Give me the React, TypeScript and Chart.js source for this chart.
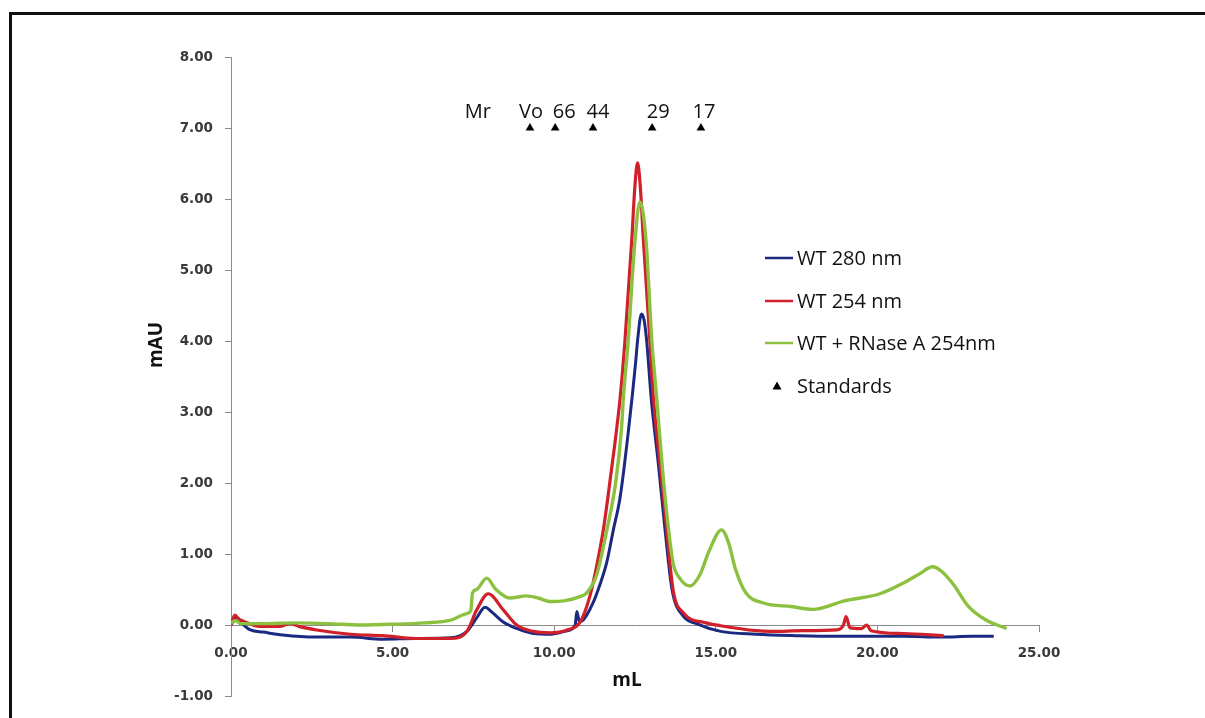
import React, { useEffect, useRef } from "react";
import { Chart, registerables } from "chart.js";

Chart.register(...registerables);

// ---------- data ----------
const seriesLabels = ["WT 280 nm", "WT 254 nm", "WT + RNase A 254nm", "Standards"];
const seriesColors = ["#1b2a80", "#d0202a", "#8cc13f", "#000000"];

const wt280X = [0.0, 0.1, 0.2, 0.35, 0.6, 1.0, 1.6, 2.6, 3.7, 4.7, 5.7, 6.8, 7.3, 7.6, 7.86, 8.1, 8.4, 8.85, 9.35, 9.9, 10.4, 10.65, 10.7, 10.78, 10.9, 11.2, 11.4, 11.62, 11.83, 12.04, 12.3, 12.52, 12.58, 12.7, 12.78, 12.86, 13.0, 13.22, 13.43, 13.65, 14.0, 14.4, 15.15, 16.25, 17.5, 18.7, 20.0, 20.8, 22.0, 22.9, 23.6];
const wt280Y = [0.0, 0.08, 0.1, 0.02, -0.07, -0.1, -0.14, -0.17, -0.17, -0.2, -0.19, -0.18, -0.09, 0.1, 0.25, 0.17, 0.05, -0.05, -0.12, -0.13, -0.08, 0.0, 0.19, 0.05, 0.07, 0.31, 0.55, 0.87, 1.34, 1.8, 2.75, 3.7, 4.01, 4.38, 4.3, 4.01, 3.2, 2.28, 1.34, 0.49, 0.12, 0.02, -0.09, -0.13, -0.15, -0.16, -0.16, -0.16, -0.17, -0.16, -0.16];

const wt254X = [0.0, 0.12, 0.25, 0.4, 0.9, 1.5, 1.83, 2.1, 2.65, 3.7, 4.7, 5.7, 6.8, 7.3, 7.6, 7.96, 8.43, 8.84, 9.35, 9.87, 10.4, 10.8, 11.1, 11.3, 11.52, 11.73, 12.04, 12.19, 12.4, 12.5, 12.58, 12.66, 12.76, 12.96, 13.07, 13.27, 13.48, 13.68, 14.0, 14.7, 15.15, 16.25, 16.7, 17.7, 18.74, 18.95, 19.03, 19.15, 19.5, 19.67, 19.8, 20.8, 22.05];
const wt254Y = [0.0, 0.14, 0.08, 0.05, -0.02, -0.02, 0.02, -0.02, -0.07, -0.13, -0.15, -0.19, -0.19, -0.09, 0.21, 0.44, 0.21, 0.0, -0.09, -0.11, -0.07, 0.04, 0.4, 0.8, 1.34, 2.04, 3.2, 4.01, 5.42, 6.2, 6.51, 6.2, 5.42, 4.01, 3.2, 2.28, 1.34, 0.49, 0.17, 0.03, -0.01, -0.08, -0.09, -0.08, -0.07, 0.0, 0.12, -0.04, -0.05, 0.0, -0.08, -0.12, -0.15];

const rnaseX = [0.0, 0.15, 0.3, 1.0, 2.0, 3.0, 4.0, 5.0, 6.0, 6.8, 7.29, 7.42, 7.47, 7.6, 7.91, 8.2, 8.63, 9.15, 9.5, 9.87, 10.3, 10.8, 11.0, 11.31, 11.63, 11.9, 12.08, 12.14, 12.29, 12.5, 12.65, 12.84, 13.02, 13.17, 13.35, 13.5, 13.68, 13.9, 14.2, 14.5, 14.8, 15.18, 15.4, 15.6, 15.92, 16.47, 17.34, 18.0, 18.98, 20.08, 20.84, 21.3, 21.71, 22.0, 22.37, 22.8, 23.36, 24.0];
const rnaseY = [0.03, 0.06, 0.02, 0.02, 0.03, 0.02, 0.0, 0.01, 0.03, 0.07, 0.16, 0.2, 0.45, 0.5, 0.66, 0.5, 0.38, 0.41, 0.38, 0.33, 0.34, 0.4, 0.45, 0.7, 1.34, 2.0, 2.75, 3.2, 4.01, 5.42, 5.96, 5.42, 4.01, 3.2, 2.2, 1.5, 0.87, 0.65, 0.55, 0.7, 1.05, 1.34, 1.15, 0.8, 0.46, 0.31, 0.26, 0.22, 0.34, 0.44, 0.6, 0.72, 0.82, 0.75, 0.56, 0.27, 0.07, -0.05];

const standardsX = [9.25, 10.03, 11.2, 13.03, 14.54];
const standardsY = [7.0, 7.0, 7.0, 7.0, 7.0];
const standardsLabels = ["Vo", "66", "44", "29", "17"];
const mrLabel = "Mr";
const mrX = 7.64;

const xTitle = "mL";
const yTitle = "mAU";
const xMin = 0, xMax = 25, xStep = 5;
const yMin = -1, yMax = 8, yStep = 1;

const toPoints = (xs: number[], ys: number[]) => xs.map((x, i) => ({ x, y: ys[i] }));

const AXIS_COLOR = "#8c8c8c";
const TICK_FONT = { family: "DejaVu Sans", size: 13.5, weight: "bold" as const };
// small horizontal nudges (px) of the standard labels relative to their markers
const LABEL_NUDGE = [1, 9, 5, 6, 3];

const overlayPlugin = {
  id: "overlay",
  afterDraw(chart: any) {
    const { ctx, scales } = chart;
    const xs = scales.x;
    const ys = scales.y;
    ctx.save();
    // standards labels
    ctx.fillStyle = "#111";
    ctx.font = '20px "Open Sans"';
    ctx.textAlign = "center";
    ctx.textBaseline = "alphabetic";
    standardsX.forEach((sx, i) => {
      ctx.fillText(standardsLabels[i], xs.getPixelForValue(sx) + LABEL_NUDGE[i], ys.getPixelForValue(standardsY[i]) - 10);
    });
    ctx.fillText(mrLabel, xs.getPixelForValue(mrX), ys.getPixelForValue(standardsY[0]) - 10);

    // axis titles
    ctx.font = 'bold 19px "Open Sans"';
    ctx.textBaseline = "middle";
    ctx.fillText(xTitle, 627, 681);
    ctx.save();
    ctx.translate(157, 345);
    ctx.rotate(-Math.PI / 2);
    ctx.fillText(yTitle, 0, 0);
    ctx.restore();

    // legend
    const rows = [258, 301, 343, 386];
    ctx.font = '20px "Open Sans"';
    ctx.textAlign = "left";
    ctx.textBaseline = "middle";
    seriesLabels.forEach((lab, i) => {
      const ry = rows[i];
      if (i < 3) {
        ctx.strokeStyle = seriesColors[i];
        ctx.lineWidth = 2.5;
        ctx.beginPath();
        ctx.moveTo(765, ry);
        ctx.lineTo(793, ry);
        ctx.stroke();
      } else {
        ctx.fillStyle = "#000";
        ctx.beginPath();
        ctx.moveTo(777, ry - 4.5);
        ctx.lineTo(781.5, ry + 3.5);
        ctx.lineTo(772.5, ry + 3.5);
        ctx.closePath();
        ctx.fill();
      }
      ctx.fillStyle = "#111";
      ctx.fillText(lab, 797, ry + 1);
    });
    ctx.restore();
  },
};

export default function App() {
  const canvasRef = useRef<HTMLCanvasElement | null>(null);

  useEffect(() => {
    if (!canvasRef.current) return;
    const lineDs = (i: number, xs: number[], ys: number[], width: number, order: number) => ({
      type: "line" as const,
      label: seriesLabels[i],
      data: toPoints(xs, ys),
      borderColor: seriesColors[i],
      backgroundColor: seriesColors[i],
      borderWidth: width,
      pointRadius: 0,
      cubicInterpolationMode: "monotone" as const,
      fill: false,
      order,
    });
    const chart = new Chart(canvasRef.current, {
      type: "line",
      data: {
        datasets: [
          lineDs(0, wt280X, wt280Y, 3, 4),
          lineDs(1, wt254X, wt254Y, 3.2, 3),
          lineDs(2, rnaseX, rnaseY, 3.4, 2),
          {
            type: "line" as const,
            label: seriesLabels[3],
            data: toPoints(standardsX, standardsY),
            showLine: false,
            pointStyle: "triangle",
            pointRadius: 5,
            pointBackgroundColor: "#000",
            pointBorderColor: "#000",
            pointBorderWidth: 0,
            order: 1,
          } as any,
        ],
      },
      options: {
        responsive: false,
        animation: false,
        devicePixelRatio: 1,
        layout: { padding: { left: 0, top: 57, right: 166, bottom: 22 } },
        plugins: { legend: { display: false }, tooltip: { enabled: false }, title: { display: false } },
        scales: {
          x: {
            type: "linear",
            position: { y: 0 } as any,
            min: xMin,
            max: xMax,
            afterFit: (s: any) => { s.height = 0; },
            ticks: {
              stepSize: xStep,
              color: "#3a3a3a",
              font: TICK_FONT,
              padding: 14,
              maxRotation: 0,
              callback: (v: any) => Number(v).toFixed(2),
            },
            grid: { drawOnChartArea: false, drawTicks: true, tickLength: 6, color: AXIS_COLOR },
            border: { display: true, color: AXIS_COLOR, width: 1 },
          },
          y: {
            type: "linear",
            position: "left",
            min: yMin,
            max: yMax,
            afterFit: (s: any) => { s.width = 231; },
            ticks: {
              stepSize: yStep,
              color: "#3a3a3a",
              font: TICK_FONT,
              padding: 12,
              callback: (v: any) => Number(v).toFixed(2),
            },
            grid: { drawOnChartArea: false, drawTicks: true, tickLength: 6, color: AXIS_COLOR },
            border: { display: true, color: AXIS_COLOR, width: 1 },
          },
        },
      },
      plugins: [overlayPlugin],
    });
    return () => chart.destroy();
  }, []);

  return (
    <div style={{ position: "fixed", left: 0, top: 0, width: 1205, height: 718, background: "#fff", overflow: "hidden" }}>
      <div
        style={{
          position: "absolute",
          left: 9,
          top: 12,
          width: 1205,
          height: 718,
          borderTop: "3px solid #111",
          borderLeft: "3px solid #111",
        }}
      />
      <canvas ref={canvasRef} width={1205} height={718} style={{ position: "absolute", left: 0, top: 0, width: 1205, height: 718 }} />
    </div>
  );
}
